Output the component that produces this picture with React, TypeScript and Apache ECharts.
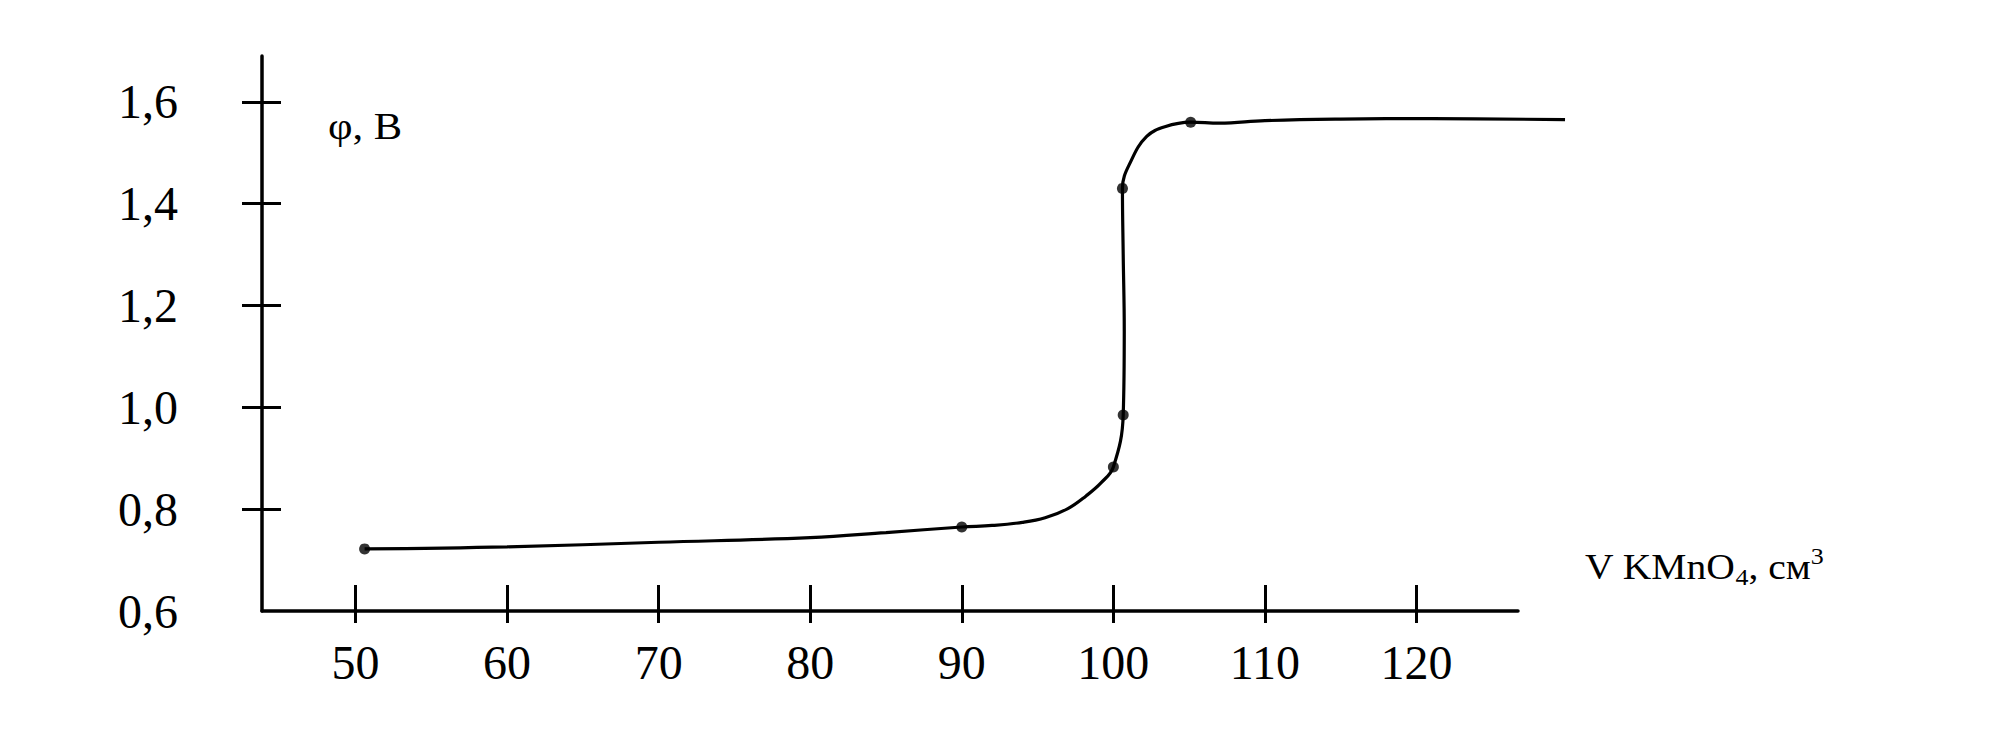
import React, { useEffect, useRef } from "react";
import * as echarts from "echarts";

// Smooth titration curve (V, cm3 -> potential, V)
const curveVolume = [50.6, 60, 70, 80, 85, 90, 92, 94, 95.5, 97, 98.2, 99.2, 100, 100.65, 100.72, 100.65, 100.6, 101.2, 102.2, 103.4, 105.1, 107, 110, 115, 121, 129.8];
const curvePotential = [0.722, 0.726, 0.735, 0.744, 0.754, 0.765, 0.768, 0.774, 0.783, 0.801, 0.826, 0.852, 0.883, 0.985, 1.15, 1.3, 1.43, 1.486, 1.532, 1.551, 1.56, 1.558, 1.563, 1.566, 1.567, 1.565];

// Measured points (markers)
const measuredVolume = [50.6, 90, 100, 100.65, 100.6, 105.1];
const measuredPotential = [0.722, 0.765, 0.883, 0.985, 1.43, 1.56];

// Ticks
const xTickValues = [50, 60, 70, 80, 90, 100, 110, 120];
const yTickValues = [0.8, 1.0, 1.2, 1.4, 1.6];
const yLabelValues = [0.6, 0.8, 1.0, 1.2, 1.4, 1.6];

const FONT = '"Liberation Serif", "Times New Roman", serif';

export default function App() {
  const ref = useRef<HTMLDivElement>(null);

  useEffect(() => {
    if (!ref.current) return;
    const chart = echarts.init(ref.current, undefined, { renderer: "svg" });
    const xMin = 43.83;
    const xMax = 126.7;
    const xMaxWide = 130.26;
    const yMin = 0.6;
    const yMax = 1.69;
    const black = "#000";

    const hiddenAxis = {
      type: "value",
      axisLine: { show: false },
      axisTick: { show: false },
      axisLabel: { show: false },
      splitLine: { show: false },
    };

    chart.setOption({
      animation: false,
      backgroundColor: "#fff",
      grid: [
        { left: 262, top: 56, width: 1256, height: 555, containLabel: false },
        { left: 262, top: 56, width: 1310, height: 555, containLabel: false },
      ],
      xAxis: [
        {
          type: "value",
          gridIndex: 0,
          position: "bottom",
          min: xMin,
          max: xMax,
          axisLine: { show: true, lineStyle: { color: black, width: 3.5 } },
          axisTick: { show: true, customValues: xTickValues, length: 12, lineStyle: { color: black, width: 3 } },
          axisLabel: {
            show: true,
            customValues: xTickValues,
            margin: 27,
            fontSize: 48,
            fontFamily: FONT,
            color: black,
          },
          splitLine: { show: false },
        },
        {
          type: "value",
          gridIndex: 0,
          position: "bottom",
          offset: 0,
          min: xMin,
          max: xMax,
          axisLine: { show: false },
          axisTick: { show: true, inside: true, customValues: xTickValues, length: 26, lineStyle: { color: black, width: 3 } },
          axisLabel: { show: false },
          splitLine: { show: false },
        },
        { ...hiddenAxis, gridIndex: 1, position: "bottom", min: xMin, max: xMaxWide },
      ],
      yAxis: [
        {
          type: "value",
          gridIndex: 0,
          position: "left",
          min: yMin,
          max: yMax,
          axisLine: { show: true, lineStyle: { color: black, width: 3.5 } },
          axisTick: { show: true, customValues: yTickValues, length: 20, lineStyle: { color: black, width: 3 } },
          axisLabel: {
            show: true,
            customValues: yLabelValues,
            margin: 84,
            fontSize: 48,
            fontFamily: FONT,
            color: black,
            padding: [22, 0, 0, 0],
            formatter: (v: number) => v.toFixed(1).replace(".", ","),
          },
          splitLine: { show: false },
        },
        {
          type: "value",
          gridIndex: 0,
          position: "left",
          offset: 0,
          min: yMin,
          max: yMax,
          axisLine: { show: false },
          axisTick: { show: true, inside: true, customValues: yTickValues, length: 19, lineStyle: { color: black, width: 3 } },
          axisLabel: { show: false },
          splitLine: { show: false },
        },
        { ...hiddenAxis, gridIndex: 1, position: "left", min: yMin, max: yMax },
      ],
      graphic: [
        {
          type: "text",
          x: 328,
          y: 126,
          scaleX: 1.12,
          style: {
            text: "φ, В",
            font: `38px ${FONT}`,
            fill: black,
            textAlign: "left",
            textVerticalAlign: "middle",
            align: "left",
            verticalAlign: "middle",
          },
        },
        {
          type: "text",
          x: 1585,
          y: 567,
          scaleX: 1.13,
          style: {
            text: "{m|V KMnO}{s|4}{m|, см}{p|3}",
            fill: black,
            textAlign: "left",
            textVerticalAlign: "middle",
            align: "left",
            verticalAlign: "middle",
            rich: {
              m: { fontSize: 35, fontFamily: FONT, fill: black, lineHeight: 44, verticalAlign: "middle" },
              s: { fontSize: 23, fontFamily: FONT, fill: black, lineHeight: 44, verticalAlign: "bottom" },
              p: { fontSize: 23, fontFamily: FONT, fill: black, lineHeight: 44, verticalAlign: "top" },
            },
          },
        },
      ],
      series: [
        {
          type: "line",
          xAxisIndex: 2,
          yAxisIndex: 2,
          data: curveVolume.map((v, i) => [v, curvePotential[i]]),
          smooth: 0.4,
          showSymbol: false,
          symbol: "none",
          clip: false,
          lineStyle: { color: black, width: 3.2 },
        },
        {
          type: "scatter",
          xAxisIndex: 2,
          yAxisIndex: 2,
          data: measuredVolume.map((v, i) => [v, measuredPotential[i]]),
          symbol: "circle",
          symbolSize: 11,
          clip: false,
          itemStyle: { color: black },
        },
      ],
    });

    return () => chart.dispose();
  }, []);

  return (
    <div
      ref={ref}
      style={{ position: "absolute", left: 0, top: 0, width: 1989, height: 753, background: "#fff" }}
    />
  );
}
